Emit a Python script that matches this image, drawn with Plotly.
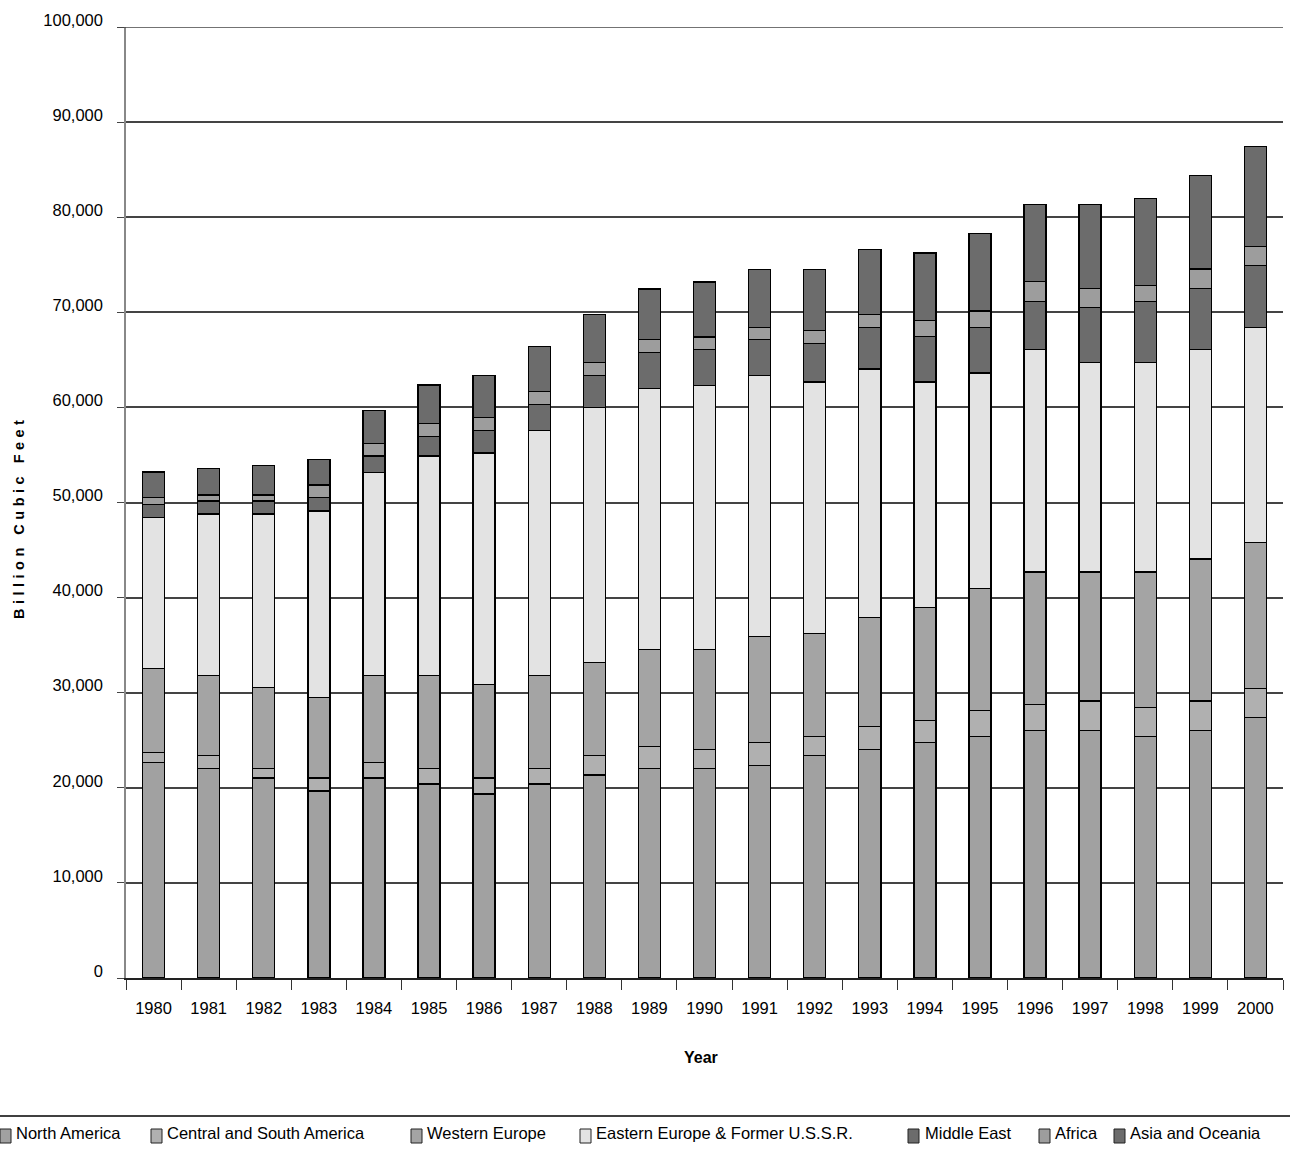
import plotly.graph_objects as go

# World natural gas consumption by region, billion cubic feet
years = [str(y) for y in range(1980, 2001)]

north_america = [22680, 22050, 21010, 19660, 21010, 20380, 19340, 20380, 21330, 22050, 22050,
                 22370, 23410, 24040, 24780, 25400, 26030, 26030, 25400, 26030, 27420]
central_south_america = [1050, 1360, 1040, 1350, 1670, 1670, 1670, 1670, 2080, 2310, 1990,
                         2410, 1990, 2410, 2290, 2710, 2740, 3090, 3020, 3090, 3020]
western_europe = [8800, 8390, 8470, 8480, 9120, 9750, 9840, 9750, 9740, 10190, 10510,
                  11140, 10830, 11470, 11900, 12850, 13930, 13580, 14280, 14940, 15340]
eastern_europe_fsu = [15900, 16980, 18260, 19630, 21360, 23100, 24370, 25770, 26840, 27440, 27750,
                      27440, 26450, 26130, 23710, 22670, 23390, 22000, 22000, 22030, 22640]
middle_east = [1360, 1360, 1360, 1410, 1740, 2040, 2350, 2740, 3370, 3780, 3790,
               3780, 4040, 4350, 4780, 4770, 5030, 5820, 6420, 6420, 6490]
africa = [740, 660, 660, 1330, 1310, 1370, 1370, 1360, 1360, 1370, 1320,
          1260, 1370, 1370, 1680, 1740, 2110, 1990, 1690, 2060, 2000]
asia_oceania = [2690, 2780, 3090, 2670, 3470, 4030, 4420, 4730, 5050, 5290, 5780,
                6100, 6410, 6830, 7100, 8140, 8100, 8820, 9180, 9810, 10550]

series = [
    ("North America", north_america, "#a1a1a1"),
    ("Central and South America", central_south_america, "#b0b0b0"),
    ("Western Europe", western_europe, "#a4a4a4"),
    ("Eastern Europe & Former U.S.S.R.", eastern_europe_fsu, "#e3e3e3"),
    ("Middle East", middle_east, "#6c6c6c"),
    ("Africa", africa, "#9d9d9d"),
    ("Asia and Oceania", asia_oceania, "#6c6c6c"),
]

y_ticks = list(range(0, 100001, 10000))
y_tick_text = [f"{v:,}" for v in y_ticks]

FONT = "Liberation Sans, Arial, sans-serif"
TEXT_SIZE = 16.5

W, H = 1290, 1158
L, R, T, B = 126, 7, 27, 180
plot_w = W - L - R
plot_h = H - T - B

fig = go.Figure()
for name, vals, color in series:
    fig.add_trace(go.Bar(
        x=years, y=vals, name=name,
        marker=dict(color=color, line=dict(color="#000000", width=1.4)),
        showlegend=False,
    ))


def px_x(px):
    return (px - L) / plot_w


def px_y(py):
    return (H - B - py) / plot_h


shapes = []
annotations = []

# top gridline at the upper end of the value range
shapes.append(dict(type="line", xref="paper", yref="y",
                   x0=px_x(119), x1=1, y0=y_ticks[-1], y1=y_ticks[-1],
                   line=dict(color="#444444", width=1.5)))

# legend separator line
shapes.append(dict(type="line", xref="paper", yref="paper",
                   x0=px_x(0), x1=px_x(W), y0=px_y(1116), y1=px_y(1116),
                   line=dict(color="#000000", width=1.6)))

# legend entries: swatch left edge, label left edge
legend_pos = [(0, 14), (151, 165), (411, 425), (580, 594), (908, 923), (1039, 1053), (1114, 1128)]
for (name, _, color), (sx, tx) in zip(series, legend_pos):
    shapes.append(dict(type="rect", xref="paper", yref="paper",
                       x0=px_x(sx), x1=px_x(sx + 11), y0=px_y(1143), y1=px_y(1129),
                       fillcolor=color, line=dict(color="#222222", width=1)))
    annotations.append(dict(text=name, xref="paper", yref="paper",
                            x=px_x(tx), y=px_y(1133), xanchor="left", yanchor="middle",
                            showarrow=False, font=dict(family=FONT, size=TEXT_SIZE, color="#000000")))

# axis titles
annotations.append(dict(text="<b>Year</b>", xref="paper", yref="paper",
                        x=px_x(701), y=px_y(1057), xanchor="center", yanchor="middle",
                        showarrow=False, font=dict(family=FONT, size=16, color="#000000")))
annotations.append(dict(text="<b><span style='letter-spacing:4.5px'>Billion Cubic Feet</span></b>",
                        xref="paper", yref="paper",
                        x=px_x(19), y=px_y(518), xanchor="center", yanchor="middle", textangle=-90,
                        showarrow=False, font=dict(family=FONT, size=14.5, color="#000000")))

fig.update_layout(
    barmode="stack",
    bargap=0.6,
    width=W, height=H,
    margin=dict(l=L, r=R, t=T, b=B, pad=0),
    paper_bgcolor="#ffffff",
    plot_bgcolor="#ffffff",
    font=dict(family=FONT, size=TEXT_SIZE, color="#000000"),
    shapes=shapes,
    annotations=annotations,
)

fig.update_xaxes(
    type="category",
    showgrid=False,
    showline=True, linecolor="#222222", linewidth=1.5,
    ticks="outside", tickson="boundaries", ticklen=10, tickcolor="#333333", tickwidth=1.2,
    ticklabelstandoff=14,
    tickfont=dict(family=FONT, size=TEXT_SIZE, color="#000000"),
)

fig.update_yaxes(
    range=[0, 100000],
    tickvals=y_ticks, ticktext=y_tick_text,
    showgrid=True, gridcolor="#444444", gridwidth=1.5,
    showline=True, linecolor="#888888", linewidth=1.5,
    ticks="outside", ticklen=7, tickcolor="#444444", tickwidth=1.2,
    ticklabelstandoff=11, ticklabelshift=-7,
    zeroline=False,
    tickfont=dict(family=FONT, size=TEXT_SIZE, color="#000000"),
)

fig.write_html("out.html")
